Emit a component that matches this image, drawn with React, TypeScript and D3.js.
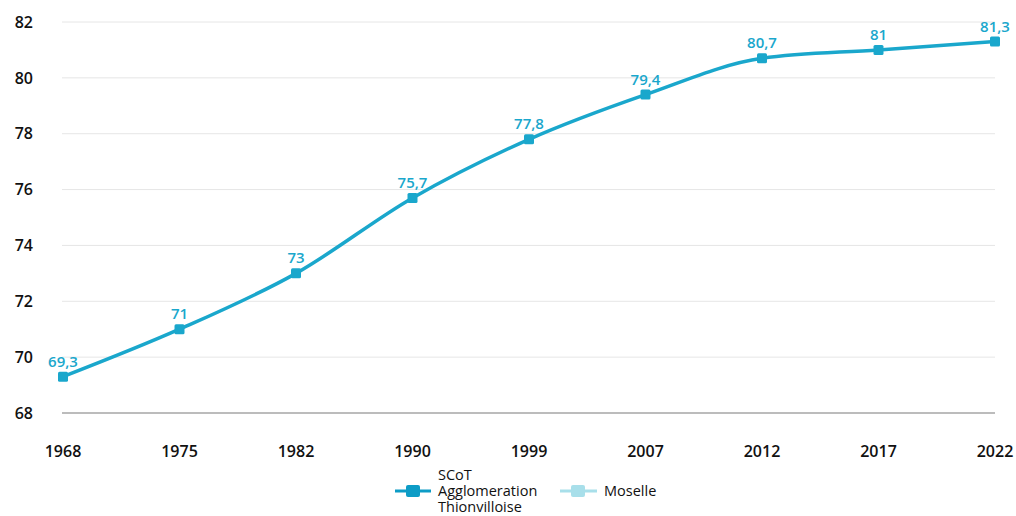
import React from "react";
import * as d3 from "d3";

const years = ["1968", "1975", "1982", "1990", "1999", "2007", "2012", "2017", "2022"];
const scotValues = [69.3, 71, 73, 75.7, 77.8, 79.4, 80.7, 81, 81.3];
const yTicks = [68, 70, 72, 74, 76, 78, 80, 82];
const seriesNames = ["SCoT Agglomeration Thionvilloise", "Moselle"];
const legendLines = ["SCoT", "Agglomeration", "Thionvilloise"];

const W = 1016;
const H = 516;
const FONT = "'Open Sans', 'DejaVu Sans', sans-serif";

export default function App() {
  const x = d3.scalePoint<string>().domain(years).range([63, 995]);
  const y = d3.scaleLinear().domain([68, 82]).range([413, 22]);
  const line = d3
    .line<number>()
    .x((_, i) => x(years[i]) as number)
    .y((d) => y(d))
    .curve(d3.curveMonotoneX);
  const lineColor = "#1aa7cc";
  const fmt = (v: number) => String(v).replace(".", ",");

  return (
    <svg width={W} height={H} style={{ position: "absolute", left: 0, top: 0, background: "#fff" }}>
      {yTicks.map((t) => (
        <g key={t}>
          <line
            x1={62}
            x2={995}
            y1={y(t)}
            y2={y(t)}
            stroke={t === 68 ? "#a6a6a6" : "#e6e6e6"}
            strokeWidth={t === 68 ? 1.5 : 1}
          />
          <text
            x={33}
            y={y(t)}
            dy="0.36em"
            textAnchor="end"
            fontFamily={FONT}
            fontSize={16}
            fontWeight={600}
            fill="#111"
          >
            {t}
          </text>
        </g>
      ))}
      {years.map((yr) => (
        <text
          key={yr}
          x={x(yr)}
          y={457}
          textAnchor="middle"
          fontFamily={FONT}
          fontSize={16}
          fontWeight={600}
          fill="#111"
        >
          {yr}
        </text>
      ))}
      <path d={line(scotValues) || ""} fill="none" stroke={lineColor} strokeWidth={3.5} />
      {scotValues.map((v, i) => (
        <g key={i}>
          <rect
            x={(x(years[i]) as number) - 5}
            y={y(v) - 5}
            width={10}
            height={10}
            rx={1.5}
            fill={lineColor}
          />
          <text
            x={x(years[i])}
            y={y(v) - 10}
            textAnchor="middle"
            fontFamily={FONT}
            fontSize={15}
            fontWeight={600}
            fill={lineColor}
          >
            {fmt(v)}
          </text>
        </g>
      ))}
      {/* legend */}
      <g>
        <line x1={395} x2={431} y1={491} y2={491} stroke="#0d9cc6" strokeWidth={3} />
        <rect x={406} y={485} width={14} height={12} rx={2} fill="#0d9cc6" />
        {legendLines.map((s, i) => (
          <text
            key={s}
            x={438}
            y={480 + i * 16}
            fontFamily={FONT}
            fontSize={14.5}
            fontWeight={500}
            fill="#111"
          >
            {s}
          </text>
        ))}
        <line x1={560} x2={597} y1={491} y2={491} stroke="#a8dfea" strokeWidth={3} />
        <rect x={571} y={485} width={14} height={12} rx={2} fill="#a8dfea" />
        <text x={604} y={496} fontFamily={FONT} fontSize={14.5} fontWeight={500} fill="#111">
          {seriesNames[1]}
        </text>
      </g>
    </svg>
  );
}
